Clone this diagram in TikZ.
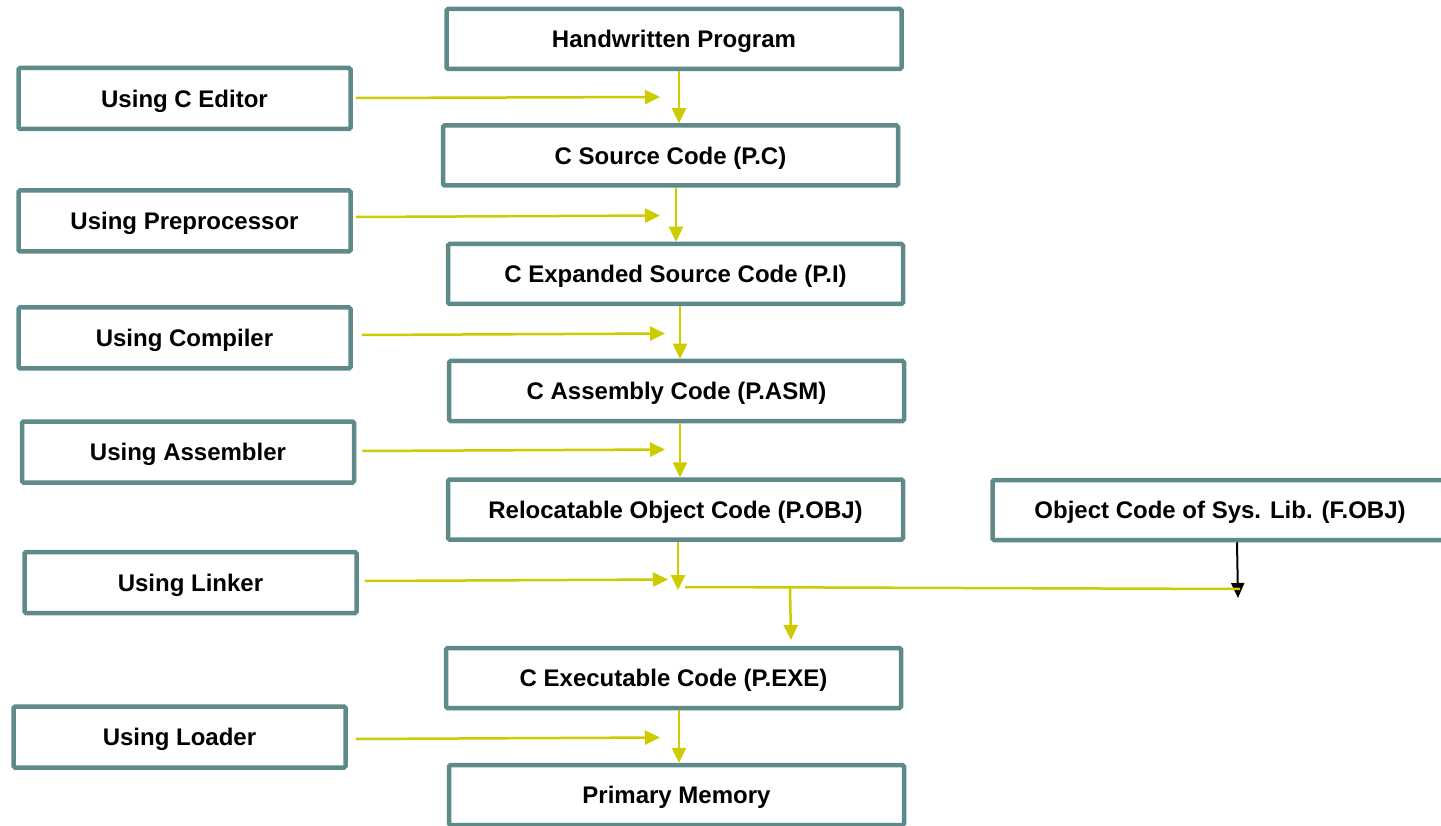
\documentclass[tikz,border=0pt]{standalone}
\usepackage{fontspec}
\setmainfont{Liberation Sans}
\usetikzlibrary{arrows.meta,calc}
\definecolor{boxline}{HTML}{5E8A8A}
\definecolor{flowyellow}{HTML}{CCCC00}
\begin{document}
\begin{tikzpicture}[x=1pt,y=-1pt,
  box/.style={draw=boxline, line width=4.5pt, fill=white, rounded corners=1.5pt,
    inner sep=0pt, align=center, text height=17.2pt, text depth=0pt,
    font=\fontsize{24}{28}\selectfont\bfseries},
  stage/.style={box, minimum width=455pt, minimum height=60pt},
  tool/.style={box, minimum width=332pt, minimum height=61pt},
  flow/.style={draw=flowyellow, line width=2.5pt, -{Triangle[length=15pt,width=14pt]}},
  joint/.style={draw=flowyellow, line width=2.5pt},
  libflow/.style={draw=black, line width=2pt, -{Triangle[length=15pt,width=13pt]}}]
\clip (0,0) rectangle (1441,826);
\fill[white] (0,0) rectangle (1441,826);

% main chain of program forms
\node[stage] (hw)  at (674,39)    {Handwritten Program};
\node[stage] (src) at (670.5,155.5) {C Source Code (P.C)};
\node[stage] (exp) at (675.5,274) {C Expanded Source Code (P.I)};
\node[stage] (asm) at (676.5,391) {C Assembly Code (P.ASM)};
\node[stage] (obj) at (675.5,509.5) {Relocatable Object Code (P.OBJ)};
\node[stage] (exe) at (673.5,678) {C Executable Code (P.EXE)};
\node[stage] (pm)  at (676.5,795) {Primary Memory};
\node[stage] (lib) at (1220,510)  {Object Code of Sys. Lib. (F.OBJ)};

% tools applied at each step
\node[tool] (ed)  at (184.5,98.5) {Using C Editor};
\node[tool] (pre) at (184.5,221)  {Using Preprocessor};
\node[tool] (cmp) at (184.5,338)  {Using Compiler};
\node[tool] (as)  at (188,452)    {Using Assembler};
\node[tool] (lnk) at (190.5,582.5) {Using Linker};
\node[tool] (ld)  at (179.5,737)  {Using Loader};

% tips of the tool arrows
\coordinate (tEd)  at (660,97);
\coordinate (tPre) at (660,215.5);
\coordinate (tCmp) at (665,333.5);
\coordinate (tAs)  at (665,449.5);
\coordinate (tLnk) at (668,579.5);
\coordinate (tLd)  at (660,737.5);

\draw[flow] ($(ed.east |- tEd)+(3,1)$)   -- (tEd);
\draw[flow] ($(pre.east |- tPre)+(3,1.5)$) -- (tPre);
\draw[flow] ($(cmp.east |- tCmp)+(9,1.5)$) -- (tCmp);
\draw[flow] ($(as.east |- tAs)+(6,1.5)$)   -- (tAs);
\draw[flow] ($(lnk.east |- tLnk)+(6,1.5)$) -- (tLnk);
\draw[flow] ($(ld.east |- tLd)+(8,1.5)$)   -- (tLd);

% columns of the downward arrows
\coordinate (c1) at (679,0);
\coordinate (c2) at (676,0);
\coordinate (c3) at (680,0);
\coordinate (c4) at (678,0);

\draw[flow] (hw.south -| c1)  -- (src.north -| c1);
\draw[flow] (src.south -| c2) -- (exp.north -| c2);
\draw[flow] (exp.south -| c3) -- (asm.north -| c3);
\draw[flow] (asm.south -| c3) -- (obj.north -| c3);
\coordinate (tObj) at (678,590);
\draw[flow] (obj.south -| c4) -- (tObj);
\draw[flow] (exe.south -| c1) -- (pm.north -| c1);

% system library feeding the linker
\coordinate (cL) at (1237,0);
\coordinate (tLib) at (1238,598);
\draw[libflow] (lib.south -| cL) -- (tLib);

% linking: user object joined with the system library
\coordinate (jA) at (685,587);
\coordinate (jB) at (1240,589);
\coordinate (jM) at (790,587.5);
\coordinate (tExe) at (791,640);
\draw[joint] (jA) -- (jB);
\draw[flow] (jM) -- (tExe);
\end{tikzpicture}
\end{document}
